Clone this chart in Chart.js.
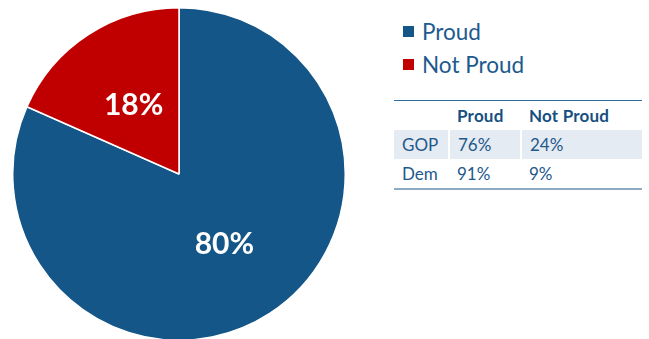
<!DOCTYPE html>
<html>
<head>
<meta charset="utf-8">
<script src="https://cdn.jsdelivr.net/npm/chart.js@4/dist/chart.umd.min.js"></script>
<style>
  html, body {
    margin: 0;
    padding: 0;
    width: 649px;
    height: 339px;
    overflow: hidden;
    background: #fff;
    font-family: Lato, "Open Sans", sans-serif;
  }
  #pie {
    position: absolute;
    left: 12px;
    top: 7px;
  }
  #legend {
    position: absolute;
    left: 403px;
    top: 15px;
    color: #1d5a8e;
    font-size: 22.5px;
  }
  #legend div {
    height: 33px;
    line-height: 27px;
    display: flex;
    align-items: center;
  }
  #legend span.box {
    display: inline-block;
    width: 11px;
    height: 11px;
    margin-right: 8px;
  }
  #table {
    position: absolute;
    left: 394px;
    top: 100px;
    width: 248px;
    border-collapse: collapse;
    font-size: 17px;
    color: #22598b;
    border-top: 1px solid #2d6b9f;
    border-bottom: 2px solid #8eaac4;
  }
  #table td, #table th {
    padding: 0 0 0 8px;
    text-align: left;
    height: 29px;
  }
  #table th {
    font-weight: bold;
    color: #174f80;
    letter-spacing: 0.2px;
  }
  #table tr.shade td {
    background: #e5ebf2;
    border-left: 2px solid #fff;
  }
  #table tr.shade td:first-child {
    border-left: none;
  }
</style>
</head>
<body>
<canvas id="pie" width="334" height="334"></canvas>
<div id="legend"></div>
<table id="table"></table>
<script>
// overall split
const categories = ["Proud", "Not Proud"];
const shares = [80, 18];
const colors = ["#135687", "#c00000"];

// split by party
const parties = ["GOP", "Dem"];
const proudByParty = [76, 91];
const notProudByParty = [24, 9];

// white percentage labels in the middle of each slice
const sliceLabels = {
  id: "sliceLabels",
  afterDatasetsDraw(chart) {
    const ctx = chart.ctx;
    const meta = chart.getDatasetMeta(0);
    ctx.save();
    ctx.fillStyle = "#fff";
    ctx.font = "bold 30px Lato, sans-serif";
    ctx.textAlign = "center";
    ctx.textBaseline = "middle";
    meta.data.forEach((arc, i) => {
      const pos = arc.tooltipPosition();
      ctx.fillText(chart.data.datasets[0].data[i] + "%", pos.x, pos.y + 1);
    });
    ctx.restore();
  },
};

const chart = new Chart(document.getElementById("pie").getContext("2d"), {
  type: "pie",
  data: {
    labels: categories,
    datasets: [
      {
        data: shares,
        backgroundColor: colors,
        borderColor: "#fff",
        borderWidth: 1.5,
      },
    ],
  },
  options: {
    responsive: false,
    animation: false,
    layout: { padding: 0 },
    plugins: {
      legend: { display: false },
      tooltip: { enabled: false },
    },
  },
  plugins: [sliceLabels],
});

// legend built from the chart's own labels
const legendEl = document.getElementById("legend");
categories.forEach((name, i) => {
  const row = document.createElement("div");
  row.innerHTML = `<span class="box" style="background:${colors[i]}"></span>${name}`;
  legendEl.appendChild(row);
});

// party breakdown table
const tableEl = document.getElementById("table");
let html = `<tr><th style="width:47px"></th><th style="width:64px">${categories[0]}</th><th>${categories[1]}</th></tr>`;
parties.forEach((p, i) => {
  html += `<tr class="${i === 0 ? "shade" : ""}"><td>${p}</td><td>${proudByParty[i]}%</td><td>${notProudByParty[i]}%</td></tr>`;
});
tableEl.innerHTML = html;
</script>
</body>
</html>
